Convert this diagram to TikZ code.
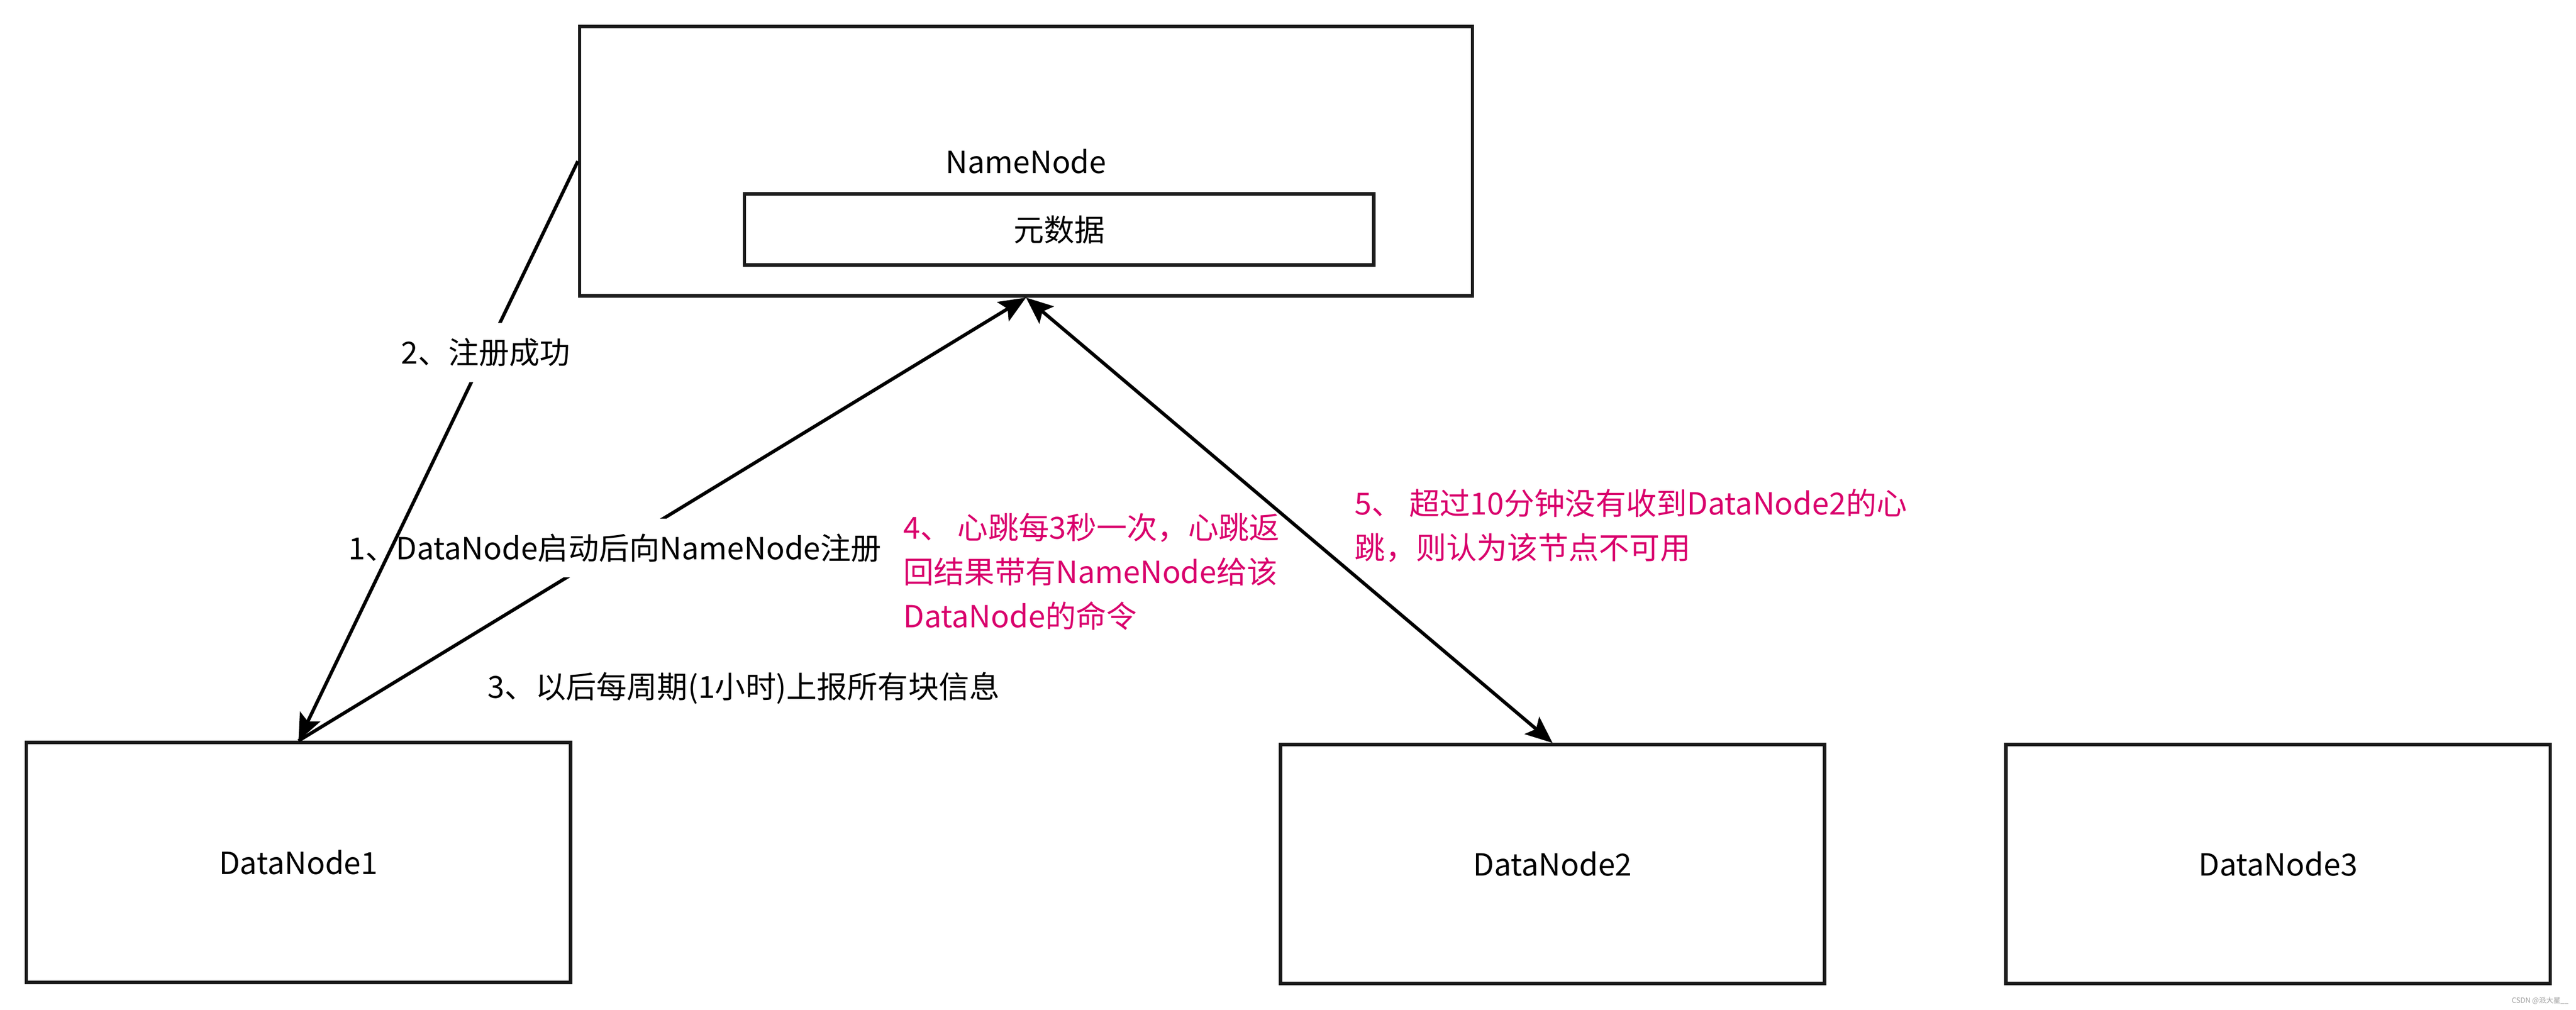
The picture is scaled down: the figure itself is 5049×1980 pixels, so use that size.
\documentclass[tikz,border=0pt]{standalone}
\usepackage{fontspec}
\setmainfont{Noto Sans CJK SC}
\usetikzlibrary{arrows.meta}
\definecolor{notered}{RGB}{217,0,108}
\definecolor{boxgray}{RGB}{26,26,26}
\tikzset{
  blk/.tip={Stealth[length=15pt,width=12.5pt,inset=3pt]},
  box/.style={draw=boxgray,line width=1.9pt,inner sep=0pt},
  link/.style={line width=1.9pt,-blk},
  dlink/.style={line width=1.9pt,blk-blk},
  tag/.style={fill=white,inner xsep=4pt,inner ysep=8.5pt},
  note/.style={text=notered,align=left,anchor=west,inner sep=0pt}
}
\begin{document}
\begin{tikzpicture}[x=0.01cm,y=-0.01cm,font=\fontsize{17pt}{24.7pt}\selectfont]
                \useasboundingbox (0,0) rectangle (5049,1980);
                \node[box,minimum width=17.49cm,minimum height=5.28cm] (nn) at (2011,316) {NameNode};
                \node[box,minimum width=12.33cm,minimum height=1.39cm] (meta) at (2076,450) {元数据};
                \node[box,minimum width=10.66cm,minimum height=4.70cm] (dn1) at (585,1691) {DataNode1};
                \node[box,minimum width=10.66cm,minimum height=4.68cm] (dn2) at (3043,1694) {DataNode2};
                \node[box,minimum width=10.66cm,minimum height=4.68cm] (dn3) at (4465,1694) {DataNode3};
                \draw[link] (dn1.north) -- node[tag,pos=0.435] (l1) {1、DataNode启动后向NameNode注册} (nn.south);
                \draw[link] (nn.west) -- node[tag,pos=0.33] (l2) {2、注册成功} (dn1.north);
                \draw[dlink] (nn.south) -- (dn2.north);
                \node[inner sep=0pt] (l3) at (1458,1349) {3、以后每周期(1小时)上报所有块信息};
                \node[note] (l4) at (1770,1121) {4、 心跳每3秒一次，心跳返\\回结果带有NameNode给该\\DataNode的命令};
                \node[note] (l5) at (2655,1031) {5、 超过10分钟没有收到DataNode2的心\\跳，则认为该节点不可用};
                \node[text=black!40,font=\fontsize{4pt}{5pt}\selectfont,anchor=east,inner sep=0pt] (wm) at (5035,1962) {CSDN @派大星\_\_};
            \end{tikzpicture}
\end{document}
